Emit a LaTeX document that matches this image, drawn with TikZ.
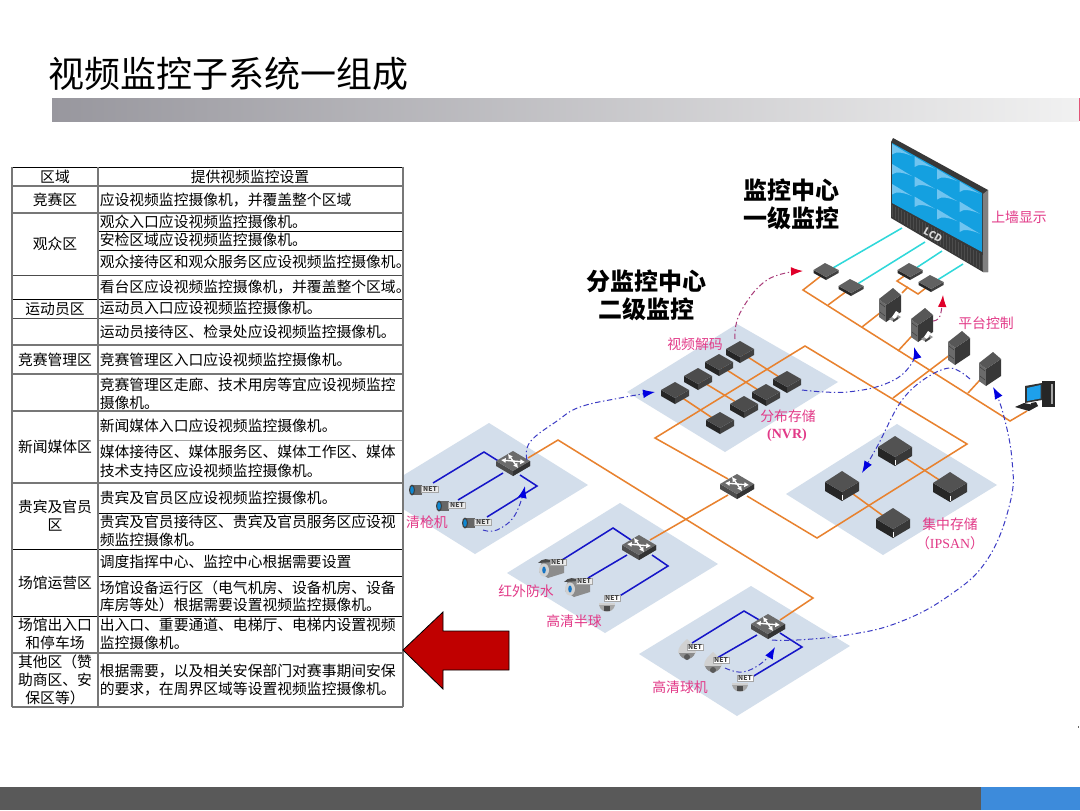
\documentclass[tikz,border=0pt]{standalone}
\usepackage{fontspec}
\setmainfont{Noto Sans CJK SC}
\newfontfamily\serifbold{Liberation Serif}
\usetikzlibrary{arrows.meta,calc}
\definecolor{panelc}{HTML}{D3DEEB}
\definecolor{orangec}{HTML}{E8822F}
\definecolor{bluec}{HTML}{1616C8}
\definecolor{cyanc}{HTML}{2FD8DA}
\definecolor{pinkc}{HTML}{E23A88}
\definecolor{dashb}{HTML}{3B3BC4}
\definecolor{dashr}{HTML}{A83A78}
\definecolor{tipb}{HTML}{0000E0}
\definecolor{tipr}{HTML}{E0002A}
\definecolor{redarrow}{HTML}{C00000}
\definecolor{footg}{HTML}{595959}
\definecolor{footb}{HTML}{3D8BDB}
\definecolor{rule}{HTML}{777777}
\definecolor{barl}{HTML}{98979E}
\definecolor{barr}{HTML}{F1F1F1}
\definecolor{barend}{HTML}{E45478}
\definecolor{screenc}{HTML}{14A0E0}
\definecolor{wedgec}{HTML}{70C4F0}
\definecolor{pcscreen}{HTML}{1EA0EB}
\tikzset{
  panel/.style={fill=panelc,draw=none},
  olink/.style={draw=orangec,line width=1.15pt,line join=miter},
  blink/.style={draw=bluec,line width=1.15pt},
  clink/.style={draw=cyanc,line width=1.15pt},
  flowb/.style={draw=dashb,line width=.75pt,dash pattern=on 4pt off 2pt on 1pt off 2pt,-{Latex[length=9pt,width=6.5pt,color=tipb]}},
  flowr/.style={draw=dashr,line width=.75pt,dash pattern=on 4pt off 2pt on 1pt off 2pt,-{Latex[length=9pt,width=6.5pt,color=tipr]}},
  cell/.style={anchor=west,inner sep=0pt,font=\fontsize{11.1}{12}\selectfont},
  cellc/.style={inner sep=0pt,font=\fontsize{11.1}{12}\selectfont},
  tag/.style={text=pinkc,inner sep=0pt,font=\fontsize{10.4}{12}\selectfont},
  head/.style={text=black,inner sep=0pt,font=\fontsize{18}{20}\bfseries\selectfont},
  nettag/.style={fill=#1,draw=gray!70,line width=.3pt,inner xsep=.8pt,inner ysep=.5pt,font=\fontsize{5}{5}\bfseries\selectfont,text=black!75},
  nettag/.default=black!8,
  pics/netswitch/.style={code={
    \fill[black!70] (-17,-2)--(0,8)--(17,-2)--(17,3)--(0,13)--(-17,3)--cycle;
    \fill[black!80] (0,8)--(17,-2)--(17,3)--(0,13)--cycle;
    \fill[black!58] (-17,-2)--(0,-12)--(17,-2)--(0,8)--cycle;
    \draw[white,line width=1pt,{Latex[length=3.5pt,width=4pt]}-{Latex[length=3.5pt,width=4pt]}] (-12,-3)--(12,-1);
    \draw[white,line width=1pt,{Latex[length=3.5pt,width=4pt]}-{Latex[length=3.5pt,width=4pt]}] (-5,-9)--(5,5);
  }},
  pics/nvrbox/.style={code={
    \fill[black!85] (-14,-3)--(0,5)--(0,11)--(-14,3)--cycle;
    \fill[black!75] (0,5)--(14,-3)--(14,3)--(0,11)--cycle;
    \fill[black!70] (-14,-3)--(0,-11)--(14,-3)--(0,5)--cycle;
  }},
  pics/sanbox/.style={code={
    \fill[black!85] (-17,-4)--(0,6)--(0,15)--(-17,5)--cycle;
    \fill[black!78] (0,6)--(17,-4)--(17,5)--(0,15)--cycle;
    \fill[black!68] (-17,-4)--(0,-15)--(17,-4)--(0,6)--cycle;
    \draw[white,line width=.5pt] (0,9)--(0,14);
  }},
  pics/decoderbox/.style={code={
    \fill[black!85] (-12.5,-2)--(0,5)--(0,8)--(-12.5,1)--cycle;
    \fill[black!75] (0,5)--(12.5,-2)--(12.5,1)--(0,8)--cycle;
    \fill[black!62] (-12.5,-2)--(-1,-9)--(12.5,-2)--(0,5)--cycle;
  }},
  pics/tower/.style={code={
    \fill[black!58] (-11,-6)--(-4,0)--(-4,17)--(-11,12)--cycle;
    \fill[black!78] (-4,0)--(11,-10)--(11,7)--(-4,17)--cycle;
    \fill[black!66] (-11,-6)--(3,-17)--(11,-10)--(-4,0)--cycle;
    \draw[black!80,line width=.25pt] (-10,-2)--(-5,2) (-10,7)--(-5,11);
  }},
  pics/printer/.style={code={
    \fill[black!40] (-6,1)--(1,-4)--(6,-1)--(-1,4)--cycle;
    \fill[white] (-3,-1)--(1,-7)--(4,-5)--(0,1)--cycle;
    \fill[black!75] (-2,2)--(3,-1)--(3,1)--(-2,4)--cycle;
  }},
  pics/bulletcam/.style={code={
    \fill[black!60] (-13,-5) rectangle (-3,5);
    \fill[black!75] (-13,0) ellipse[x radius=3,y radius=5.5];
    \fill[cyan!70!blue] (-13,0) ellipse[x radius=1.8,y radius=3.8];
    \node[nettag,minimum width=13pt] at (5,-1) {NET};
  }},
  pics/ircam/.style={code={
    \fill[black!45] (-10,-6)--(12,-2)--(12,6)--(-4,11)--(-13,5)--cycle;
    \fill[black!70] (-14,-4) ..controls (-10,-9) and (-3,-9) .. (2,-5)--cycle;
    \fill[black!18] (-8,3) ellipse[x radius=5,y radius=6.5];
    \fill[cyan!55!blue] (-8,3) ellipse[x radius=1.8,y radius=3.5];
    \node[nettag] at (6,-5) {NET};
  }},
  pics/domecam/.style={code={
    \fill[black!18] (-9,1) ..controls (-9,-6) and (-4,-9) .. (0,-13) ..controls (4,-9) and (9,-6) .. (9,1)--cycle;
    \fill[black!45] (-8,1) ..controls (-6,9) and (6,9) .. (8,1)--cycle;
    \fill[black!65] (0,5) circle[radius=3];
    \node[nettag,fill=white] at (8,-5) {NET};
  }},
  pics/smalldome/.style={code={
    \fill[black!18] (-8,0)--(8,0)--(8,2)--(-8,2)--cycle;
    \fill[black!35] (-8,2) ..controls (-6,11) and (6,11) .. (8,2)--cycle;
    \fill[black!70] (-3,3) rectangle (3,8);
    \node[nettag,fill=white] at (5,-5) {NET};
  }},
}
\begin{document}
\begin{tikzpicture}[x=.75pt,y=-.75pt,line cap=butt]
\useasboundingbox (0,0) rectangle (1080,810);
\fill[white] (0,0) rectangle (1080,810);
% title, bar, footer
\node[inner sep=0pt,anchor=west,font=\fontsize{27}{30}\selectfont] (title) at (48,73.5) {视频监控子系统一组成};
\shade[left color=barl,right color=barr] (52,98) rectangle (1079,121);
\fill[barend] (1079,98) rectangle (1080,121);
\fill[footg] (0,786.5) rectangle (981,810);
\fill[footb] (981,786.5) rectangle (1080,810);
\fill[black!60] (1078,726) rectangle (1079,728);
% panels
\fill[panel] (489,423)--(588,485)--(475,554)--(376,492)--cycle;
\fill[panel] (620,503)--(718,564)--(605,633)--(507,573)--cycle;
\fill[panel] (751,586)--(850,646)--(737,716)--(639,654)--cycle;
\fill[panel] (737,324)--(838,382)--(725,452)--(627,392)--cycle;
\fill[panel] (897,424)--(997,485)--(883,555)--(786,494)--cycle;
% anchors
\coordinate (swA) at (513,463);
\coordinate (swB) at (639,547);
\coordinate (swC) at (768,626);
\coordinate (swD) at (737,486);
\coordinate (camA1) at (425,490);\coordinate (camA2) at (452,506);\coordinate (camA3) at (478,523);
\coordinate (camB1) at (552,567);\coordinate (camB2) at (578,586);\coordinate (camB3) at (607,603);
\coordinate (camC1) at (687,652);\coordinate (camC2) at (713,665);\coordinate (camC3) at (740,683);
\coordinate (dec1) at (826,272);\coordinate (dec2) at (851,288);\coordinate (dec3) at (910,272);\coordinate (dec4) at (931,284);
\coordinate (srv1) at (890,305);\coordinate (srv2) at (922,325);\coordinate (srv3) at (959,348);\coordinate (srv4) at (990,369);
\coordinate (pcnode) at (1027,411);
\coordinate (lcd1) at (902,228);\coordinate (lcd2) at (925,242);\coordinate (lcd3) at (942,251);\coordinate (lcd4) at (963,264);
% orange network
\draw[olink] ([shift={(15,-5)}]swA)--(558,440)--(813,598)--([shift={(12,-6)}]swC);
\draw[olink] ([shift={(11,-7)}]swB)--([shift={(-9,9)}]swD);
\draw[olink] ([shift={(-9,-7)}]swD)--(655,438)--(805,346)--(967,444)--(817,538)--([shift={(10,10)}]swD);
\draw[olink] (893,398)--(srv3);
\draw[olink] (dec1)--(803,290)--(1010,421)--(pcnode);
\draw[olink] (828,305)--(dec2);
\draw[olink] (862,327)--(srv1);
\draw[olink] (898,351)--(srv2);
\draw[olink] (968,393)--(srv4);
\draw[olink] (dec3)--(897,281)--(918,294)--(dec4);
\draw[olink] (902,293)--(908,287);
\coordinate (nv1) at (740,352);\coordinate (nv2) at (719,365);\coordinate (nv3) at (698,379);\coordinate (nv4) at (675,393);
\coordinate (nv5) at (787,382);\coordinate (nv6) at (766,395);\coordinate (nv7) at (744,407);\coordinate (nv8) at (720,423);
\draw[olink] (nv1)--(nv5);\draw[olink] (nv2)--(nv6);\draw[olink] (nv3)--(nv7);\draw[olink] (nv4)--(nv8);
\coordinate (san1) at (895,451);\coordinate (san2) at (950,487);\coordinate (san3) at (842,486);\coordinate (san4) at (893,523);
\draw[olink] (san1)--(san2);\draw[olink] (san3)--(san4);
% blue links
\draw[blink] (433,483)--(484,452)--([shift={(-13,-1)}]swA);
\draw[blink] (458,500)--([shift={(-10,10)}]swA);
\draw[blink] (487,517)--(537,486)--([shift={(7,12)}]swA);
\draw[blink] (562,560)--(613,528)--([shift={(-8,-7)}]swB);
\draw[blink] (588,578)--([shift={(-12,8)}]swB);
\draw[blink] (618,597)--(668,566)--([shift={(13,8)}]swB);
\draw[blink] (692,643)--(744,611)--([shift={(-7,-5)}]swC);
\draw[blink] (717,658)--([shift={(-11,9)}]swC);
\draw[blink] (752,677)--(802,647)--([shift={(12,7)}]swC);
% cyan links
\draw[clink] (dec1)--(lcd1);\draw[clink] (dec2)--(lcd2);\draw[clink] (dec3)--(lcd3);\draw[clink] (dec4)--(lcd4);
% LCD wall
\fill[black!78] (891,142)--(893,138)--(988,190)--(988,272)--(983,272)--(891,218)--cycle;
\fill[black!50] (983,194)--(988,190)--(988,272)--(983,272)--cycle;
\fill[screenc] (892,143)--(982,193)--(982,252)--(892,203)--cycle;
\begin{scope}
\clip (892,143)--(982,193)--(982,252)--(892,203)--cycle;
\begin{scope}[shift={(892,143)},x={(16.875pt,-9.375pt)},y={(0pt,-15pt)}]
\foreach \i in {0,1,2,3}{\foreach \j in {0,1,2}{
  \begin{scope}[shift={(\i,\j)}]
    \fill[wedgec] (0,.05)--(.9,.1) ..controls (.55,.14) and (.15,.3) .. (0,.58)--cycle;
  \end{scope}
}}
\end{scope}
\end{scope}
\foreach \k in {0,...,30}{
  \draw[black!70,line width=.2pt] ({892+\k*3},{205+\k*1.66})--({892+\k*3},{217+\k*1.78});
}
\node[text=black!15,inner sep=0pt,rotate=-29,font=\fontsize{7.5}{8}\bfseries\selectfont] (lcdtext) at (933,235) {LCD};
% devices
\pic at (dec1) {decoderbox};\pic at (dec2) {decoderbox};\pic at (dec3) {decoderbox};\pic at (dec4) {decoderbox};
\pic at (srv1) {tower};\pic at ([shift={(5,13)}]srv1) {printer};
\pic at (srv2) {tower};\pic at ([shift={(5,13)}]srv2) {printer};
\pic at (srv3) {tower};\pic at (srv4) {tower};
\foreach \n in {nv1,nv2,nv3,nv4,nv5,nv6,nv7,nv8}{\pic at (\n) {nvrbox};}
\foreach \n in {san1,san2,san3,san4}{\pic at (\n) {sanbox};}
\foreach \n in {swA,swB,swC,swD}{\pic at (\n) {netswitch};}
\foreach \n in {camA1,camA2,camA3}{\pic at (\n) {bulletcam};}
\pic at (camB1) {ircam};\pic at (camB2) {ircam};\pic at (camB3) {smalldome};
\foreach \n in {camC1,camC2}{\pic at (\n) {domecam};}
\pic at (camC3) {smalldome};
% computer
\fill[black!85] (1042,381) rectangle (1055,407);
\fill[black!35] (1051,384) rectangle (1052.5,404);
\fill[black!80] (1025,386)--(1042,383)--(1042,400)--(1025,403)--cycle;
\fill[pcscreen] (1027,388)--(1040.5,385)--(1040.5,398.5)--(1027,401)--cycle;
\fill[black!85] (1031,403)--(1036,402)--(1038,406)--(1030,407)--cycle;
\fill[black!85] (1015,407)--(1024,403)--(1038,406)--(1029,411)--cycle;
% flow arrows
\coordinate (f1s) at (483,530);\coordinate (f1e) at (525,486);
\coordinate (f2s) at (527,460);\coordinate (f2e) at (655,392);
\coordinate (f3s) at (802,390);\coordinate (f3e) at (914,347);
\coordinate (f4s) at (933,321);\coordinate (f4e) at (943,295);
\coordinate (f5s) at (735,339);\coordinate (f5e) at (803,271);
\coordinate (f6s) at (970,379);\coordinate (f6e) at (862,473);
\coordinate (f7s) at (772,640);\coordinate (f7e) at (993,387);
\coordinate (f8s) at (725,668);\coordinate (f8e) at (775,647);
\draw[flowb] plot[smooth,tension=.7] coordinates {(f1s) (497,530) (515,515) (f1e)};
\draw[flowb] plot[smooth,tension=.7] coordinates {(f2s) (530,442) (557,421) (580,407) (620,398) (f2e)};
\draw[flowb] plot[smooth,tension=.7] coordinates {(f3s) (847,392) (890,382) (912,363) (f3e)};
\draw[flowr] plot[smooth,tension=.7] coordinates {(f4s) (940,316) (f4e)};
\draw[flowr] plot[smooth,tension=.7] coordinates {(f5s) (740,313) (767,280) (f5e)};
\draw[flowb] plot[smooth,tension=.6] coordinates {(f6s) (950,368) (923,380) (900,403) (878,445) (f6e)};
\draw[flowb] plot[smooth,tension=.7] coordinates {(f7s) (797,640) (847,635) (897,623) (947,597) (987,560) (1010,503) (1012,460) (1003,413) (f7e)};
\draw[flowb] plot[smooth,tension=.7] coordinates {(f8s) (743,672) (763,662) (f8e)};
% labels
\node[head] (h1) at (791,190) {监控中心};
\node[head] (h2) at (791,218) {一级监控};
\node[head] (h3) at (646,281) {分监控中心};
\node[head] (h4) at (646,309) {二级监控};
\node[tag] (l1) at (695,344) {视频解码};
\node[tag] (l2) at (788,416) {分布存储};
\node[tag,font=\serifbold\fontsize{10.5}{12}\bfseries\selectfont] (l3) at (787,435) {(NVR)};
\node[tag] (l4) at (950,524) {集中存储};
\node[tag,font=\fontsize{10.4}{12}\selectfont] (l5) at (950,543) {（{\serifbold IPSAN}）};
\node[tag] (l6) at (1019,217) {上墙显示};
\node[tag] (l7) at (986,323) {平台控制};
\node[tag] (l8) at (526,591) {红外防水};
\node[tag] (l9) at (574,621) {高清半球};
\node[tag] (l10) at (680,687) {高清球机};
\node[tag] (l11) at (427,522) {清枪机};
% table
\fill[white] (12,167) rectangle (403,707);
\begin{scope}
\clip (99,167) rectangle (403,707);
\foreach \y/\t in {
200/应设视频监控摄像机，并覆盖整个区域,
222/观众入口应设视频监控摄像机。,
240/安检区域应设视频监控摄像机。,
262/观众接待区和观众服务区应设视频监控摄像机。,
287/看台区应设视频监控摄像机，并覆盖整个区域。,
308/运动员入口应设视频监控摄像机。,
332/运动员接待区、检录处应设视频监控摄像机。,
360/竞赛管理区入口应设视频监控摄像机。,
385/竞赛管理区走廊、技术用房等宜应设视频监控,
403/摄像机。,
426/新闻媒体入口应设视频监控摄像机。,
452/媒体接待区、媒体服务区、媒体工作区、媒体,
471/技术支持区应设视频监控摄像机。,
498/贵宾及官员区应设视频监控摄像机。,
522/贵宾及官员接待区、贵宾及官员服务区应设视,
540/频监控摄像机。,
562/调度指挥中心、监控中心根据需要设置,
588/场馆设备运行区（电气机房、设备机房、设备,
605/库房等处）根据需要设置视频监控摄像机。,
625/出入口、重要通道、电梯厅、电梯内设置视频,
643/监控摄像机。,
671/根据需要，以及相关安保部门对赛事期间安保,
689/的要求，在周界区域等设置视频监控摄像机。}
{\node[cell] (r\y) at (99.5,\y) {\t};}
\end{scope}
\node[cellc] (hd2) at (250,177) {提供视频监控设置};
\foreach \y/\t in {
177/区域,200/竞赛区,244/观众区,309/运动员区,360/竞赛管理区,447/新闻媒体区,
507/贵宾及官员,525/区,583/场馆运营区,625/场馆出入口,643/和停车场,
662/其他区（赞,680/助商区、安,698/保区等）}
{\node[cellc] (c\y) at (55,\y) {\t};}
% table rules
\foreach \y in {167,299,549,616}{\draw[black,line width=.75pt] (12,\y)--(403,\y);}
\foreach \y in {275,318}{\draw[black!70,line width=.75pt] (12,\y)--(403,\y);}
\foreach \y in {186,213,345,374,411,483,653,707}{\draw[rule,line width=1pt] (12,\y)--(403,\y);}
\foreach \y in {231,250,513,576}{\draw[black,line width=.75pt] (98,\y)--(403,\y);}
\draw[black!35,line width=.75pt] (98,440)--(403,440);
\draw[rule,line width=1pt] (12,167)--(12,707);
\draw[rule,line width=1pt] (98,167)--(98,707);
\draw[rule,line width=1pt] (403,167)--(403,707);
% red arrow
\draw[fill=redarrow,draw=black,line width=.6pt] (403,650)--(443,612)--(443,631)--(509,631)--(509,670)--(443,670)--(443,689)--cycle;
\end{tikzpicture}
\end{document}
